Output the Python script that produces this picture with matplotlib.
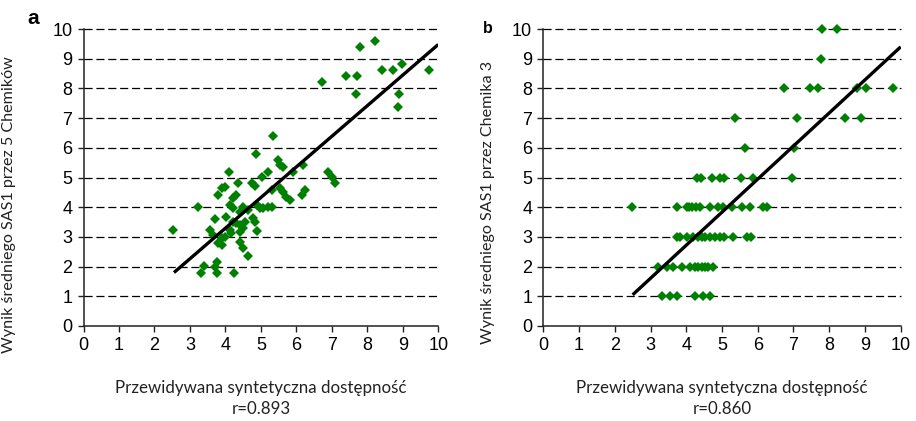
import matplotlib
matplotlib.use("Agg")
import matplotlib.pyplot as plt

# ---------------- data ----------------
ticks = list(range(0, 11))
tick_labels = [str(t) for t in ticks]

# Panel a: predicted synthetic accessibility vs mean score of 5 chemists
a_x = [2.53, 3.23, 3.31, 3.40, 3.56, 3.66, 3.70, 3.70, 3.75, 3.75, 3.80, 3.80, 3.89, 3.89,
       3.89, 3.99, 3.99, 4.03, 4.11, 4.13, 4.13, 4.17, 4.20, 4.22, 4.22, 4.40, 4.24, 4.31,
       4.31, 4.36, 4.41, 4.41, 4.41, 4.50, 4.50, 4.50, 4.55, 4.64, 4.64, 4.74, 4.78, 4.83,
       4.83, 4.86, 4.88, 4.88, 4.97, 5.02, 5.07, 5.20, 5.20, 5.30, 5.30, 5.33, 5.49, 5.54,
       5.55, 5.63, 5.63, 5.72, 5.82, 5.91, 6.15, 6.19, 6.24, 6.73, 6.90, 6.99, 7.08, 7.41,
       7.68, 7.70, 7.79, 8.21, 8.40, 8.73, 8.87, 8.90, 8.99, 9.74]
a_y = [3.23, 4.02, 1.77, 2.02, 3.23, 3.06, 3.60, 2.00, 2.17, 1.77, 4.41, 2.78, 2.73, 2.95,
       4.64, 4.69, 3.00, 3.68, 5.20, 4.07, 3.23, 3.12, 4.30, 3.96, 3.51, 2.84, 1.77, 4.41,
       3.46, 4.80, 3.40, 3.85, 3.17, 4.02, 3.29, 2.62, 3.51, 3.91, 2.36, 4.80, 3.63, 4.71,
       3.51, 5.79, 4.07, 3.21, 3.96, 5.03, 3.96, 4.00, 5.20, 4.02, 4.58, 6.40, 5.59, 4.64,
       5.42, 5.36, 4.52, 4.35, 4.24, 5.20, 4.41, 5.42, 4.58, 8.23, 5.20, 5.03, 4.80, 8.42,
       7.81, 8.42, 9.40, 9.60, 8.62, 8.62, 7.39, 7.81, 8.81, 8.62]
fit_a_x = [2.55, 10.0]
fit_a_y = [1.80, 9.48]

# Panel b: predicted synthetic accessibility vs score of chemist 3
b_x = [7.81, 8.23,
       7.77,
       6.73, 7.46, 7.70, 8.77, 9.03, 9.78,
       5.36, 7.11, 8.44, 8.88,
       5.65, 7.02,
       4.29, 4.41, 4.71, 4.95, 5.06, 5.53, 5.88, 6.95,
       2.47, 3.75, 4.01, 4.08, 4.15, 4.27, 4.39, 4.67, 4.90, 5.04, 5.27, 5.55, 5.79, 6.14, 6.25,
       3.73, 3.83, 4.01, 4.20, 4.34, 4.43, 4.53, 4.67, 4.81, 4.95, 5.06, 5.32, 5.69, 5.80,
       3.22, 3.45, 3.64, 3.87, 4.11, 4.25, 4.34, 4.43, 4.53, 4.62, 4.76,
       3.31, 3.55, 3.73, 4.25, 4.48, 4.67]
b_y = [10, 10,
       9,
       8, 8, 8, 8, 8, 8,
       7, 7, 7, 7,
       6, 6,
       5, 5, 5, 5, 5, 5, 5, 5,
       4, 4, 4, 4, 4, 4, 4, 4, 4, 4, 4, 4, 4, 4, 4,
       3, 3, 3, 3, 3, 3, 3, 3, 3, 3, 3, 3, 3, 3,
       2, 2, 2, 2, 2, 2, 2, 2, 2, 2, 2,
       1, 1, 1, 1, 1, 1]
fit_b_x = [2.5, 10.0]
fit_b_y = [1.05, 9.40]

xlabel_text = "Przewidywana syntetyczna dostępność"
r_a = "r=0.893"
r_b = "r=0.860"
ylabel_a = "Wynik średniego SAS1 przez 5 Chemików"
ylabel_b = "Wynik średniego SAS1 przez Chemika 3"

# ---------------- figure ----------------
W, H = 916, 421
fig = plt.figure(figsize=(W / 100, H / 100), dpi=100)
fig.patch.set_facecolor("white")

def px(x, y):
    return x / W, 1 - y / H

green = "#008000"
tick_font = ["Liberation Sans", "DejaVu Sans"]
label_font = ["Lato", "DejaVu Sans"]

def make_panel(rect, xs, ys, fx, fy):
    ax = fig.add_axes(rect)
    ax.set_xlim(0, 10)
    ax.set_ylim(0, 10)
    for y in ticks[1:]:
        ax.plot([0, 10], [y, y], color="black", lw=0.9, dashes=(6.5, 3.0),
                zorder=1, clip_on=False)
    ax.plot(xs, ys, linestyle="none", marker="D", markersize=5.6,
            color=green, markeredgewidth=0, zorder=3, clip_on=False)
    ax.plot(fx, fy, color="black", lw=2.4, solid_capstyle="butt", zorder=4)
    ax.set_xticks(ticks)
    ax.set_yticks(ticks)
    ax.set_xticklabels(tick_labels, fontfamily=tick_font, fontsize=13)
    ax.set_yticklabels(tick_labels, fontfamily=tick_font, fontsize=13)
    ax.tick_params(axis="both", direction="out", length=4, width=1, color="#222222")
    ax.tick_params(axis="x", pad=4)
    ax.tick_params(axis="y", pad=4)
    for s in ["top", "right"]:
        ax.spines[s].set_visible(False)
    for s in ["left", "bottom"]:
        ax.spines[s].set_color("#222222")
        ax.spines[s].set_linewidth(1.1)
    return ax

ax_a = make_panel([83.5 / W, 95 / H, 354.8 / W, 297 / H], a_x, a_y, fit_a_x, fit_a_y)
ax_b = make_panel([543.3 / W, 95 / H, 357.4 / W, 297 / H], b_x, b_y, fit_b_x, fit_b_y)

# x labels
for cx, rtxt in [(261, r_a), (722, r_b)]:
    fig.text(*px(cx, 388), xlabel_text, ha="center", va="center",
             fontfamily=label_font, fontsize=12.2, color="#222222")
    fig.text(*px(cx, 409), rtxt, ha="center", va="center",
             fontfamily=label_font, fontsize=12.2, color="#222222")

# y labels
fig.text(*px(9, 205), ylabel_a, rotation=90, ha="center", va="center",
         fontfamily=label_font, fontsize=11.6, color="#222222")
fig.text(*px(488, 202), ylabel_b, rotation=90, ha="center", va="center",
         fontfamily=label_font, fontsize=11.6, color="#222222")

# panel letters
fig.text(*px(33, 24), "a", ha="center", va="baseline", fontweight="bold",
         fontfamily=tick_font, fontsize=15)
fig.text(*px(488, 33), "b", ha="center", va="baseline", fontweight="bold",
         fontfamily=tick_font, fontsize=11.5)

fig.savefig("out.png", dpi=100)
